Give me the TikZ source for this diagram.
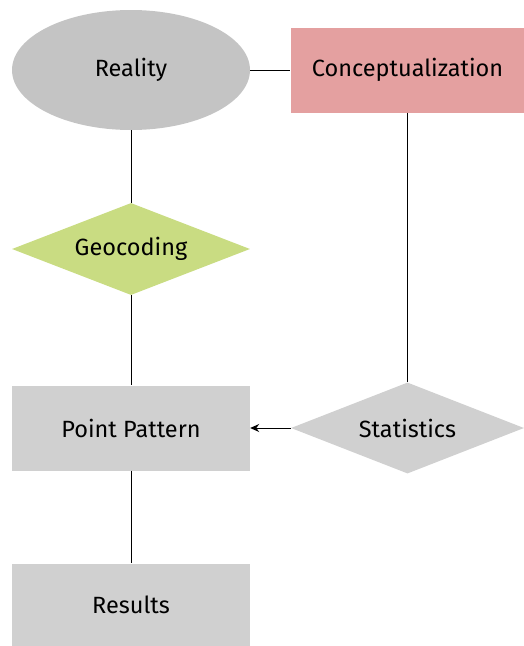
\documentclass[tikz,border=0pt]{standalone}
\usepackage{fontspec}
\setmainfont{Fira Sans}
\usetikzlibrary{shapes.geometric,arrows.meta}
\definecolor{greybox}{HTML}{D0D0D0}
\definecolor{greyoval}{HTML}{C4C4C4}
\definecolor{pinkbox}{HTML}{E4A0A0}
\definecolor{greendia}{HTML}{C9DC82}
\begin{document}
\begin{tikzpicture}[x=1pt,y=-1pt,
    font=\fontsize{23.5}{27}\selectfont,
    oval/.style = {ellipse, fill=greyoval, inner sep=0pt,
        minimum width=238pt, minimum height=120pt},
    box/.style = {rectangle, fill=greybox, inner sep=0pt,
        minimum width=238pt, minimum height=85pt},
    choice/.style = {diamond, fill=greybox, inner sep=0pt, aspect=2.58,
        minimum width=236pt, minimum height=92pt},
    link/.style = {draw=black, line width=1pt}]

\useasboundingbox (0,0) rectangle (524,646);

% Reality
\node[oval] (reality) at (131,70) {Reality};

% Conceptualization
\node[box,fill=pinkbox,minimum width=234pt] (concept) at (407.5,70) {Conceptualization};

% Geocoding
\node[choice,fill=greendia,minimum width=238pt] (geocoding) at (131,249) {Geocoding};

% Point Pattern
\node[box] (pattern) at (131,428) {Point Pattern};

% Statistics
\node[choice,minimum width=233pt,minimum height=91pt] (stats) at (407.5,428) {Statistics};

% Results
\node[box,minimum height=83pt] (results) at (131,605) {Results};

% Connectors
\draw[link] (reality) -- (concept);
\draw[link] (reality) -- (geocoding);
\draw[link] (geocoding) -- (pattern);
\draw[link] (concept) -- (stats);
\draw[link,-{Stealth[length=9pt,width=8pt]}] (stats) -- (pattern);
\draw[link] (pattern) -- (results);

\end{tikzpicture}
\end{document}
